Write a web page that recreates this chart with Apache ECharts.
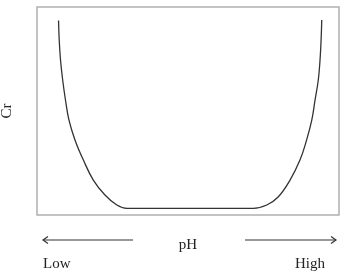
<!DOCTYPE html>
<html>
<head>
<meta charset="utf-8">
<script src="https://cdn.jsdelivr.net/npm/echarts@6/dist/echarts.min.js"></script>
<style>
  html, body { margin: 0; padding: 0; background: #fff; }
  #chart { width: 344px; height: 271px; }
</style>
</head>
<body>
<div id="chart"></div>
<script>
// pH (0..14) and Cr (0..10)
const phValues = [1.00, 1.03, 1.09, 1.19, 1.32, 1.48, 1.76, 2.15, 2.61, 3.15, 3.70, 4.16, 5.50, 7.10, 8.60, 10.03, 10.65, 11.19, 11.73, 12.19, 12.50, 12.74, 12.89, 13.04, 13.12, 13.17, 13.20];
const crValues = [9.35, 8.41, 7.45, 6.49, 5.53, 4.57, 3.61, 2.64, 1.68, 0.96, 0.48, 0.32, 0.32, 0.32, 0.32, 0.32, 0.48, 0.88, 1.68, 2.64, 3.61, 4.57, 5.53, 6.49, 7.45, 8.41, 9.38];
const xName = 'pH';
const yName = 'Cr';
const lowText = 'Low';
const highText = 'High';

const myChart = echarts.init(document.getElementById('chart'));
const font = '"Liberation Serif", "DejaVu Serif", serif';
const ink = '#333';

const option = {
  animation: false,
  grid: {
    left: 37, right: 5, top: 7, bottom: 56,
    outerBoundsMode: 'none',
    show: true, borderColor: '#b0b0b0', borderWidth: 1.5
  },
  xAxis: {
    type: 'value', min: 0, max: 14,
    name: xName, nameLocation: 'middle', nameGap: 23,
    nameTextStyle: { fontFamily: font, fontSize: 15, color: '#222' },
    axisLine: { show: false }, axisTick: { show: false },
    axisLabel: { show: false }, splitLine: { show: false }
  },
  yAxis: {
    type: 'value', min: 0, max: 10,
    name: yName, nameLocation: 'middle', nameGap: 22,
    nameTextStyle: { fontFamily: font, fontSize: 15, color: '#222' },
    axisLine: { show: false }, axisTick: { show: false },
    axisLabel: { show: false }, splitLine: { show: false }
  },
  series: [{
    type: 'line',
    data: phValues.map((p, i) => [p, crValues[i]]),
    smooth: 0.4,
    showSymbol: false,
    lineStyle: { color: ink, width: 1.3 }
  }],
  graphic: [
    { type: 'line', shape: { x1: 43, y1: 240, x2: 133, y2: 240 }, style: { stroke: ink, lineWidth: 1.2 } },
    { type: 'polyline', shape: { points: [[48, 236.5], [43, 240], [48, 243.5]] }, style: { stroke: ink, lineWidth: 1.2, fill: null } },
    { type: 'line', shape: { x1: 245, y1: 240, x2: 336, y2: 240 }, style: { stroke: ink, lineWidth: 1.2 } },
    { type: 'polyline', shape: { points: [[331, 236.5], [336, 240], [331, 243.5]] }, style: { stroke: ink, lineWidth: 1.2, fill: null } },
    { type: 'text', left: 43, top: 257, style: { text: lowText, font: '15px ' + font, fill: '#222' } },
    { type: 'text', left: 295, top: 257, style: { text: highText, font: '15px ' + font, fill: '#222' } }
  ]
};

option && myChart.setOption(option);
</script>
</body>
</html>
